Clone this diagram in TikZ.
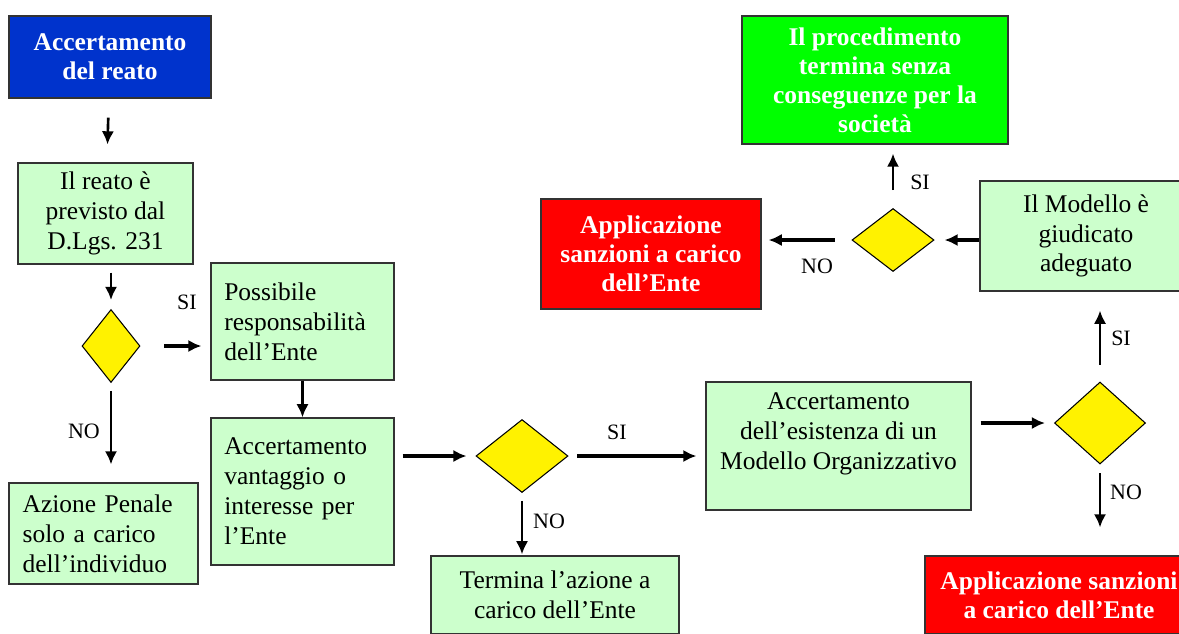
\documentclass[tikz,border=0pt]{standalone}
\usepackage{fontspec}
\setmainfont{Liberation Serif}
\usetikzlibrary{shapes.geometric,arrows.meta}

\definecolor{deepblue}{HTML}{0033CC}
\definecolor{palegreen}{HTML}{CCFFCC}
\definecolor{brightgreen}{HTML}{00FF00}

\tikzset{
  box/.style={draw=black!80, line width=0.7pt, fill=palegreen, align=center, inner sep=0pt,
    font=\fontsize{14.5}{17}\selectfont},
  lbox/.style={box, align=left},
  boldbox/.style={box, text=white, font=\fontsize{14.5}{16.5}\selectfont\bfseries},
  decision/.style={diamond, draw, fill=yellow, inner sep=0pt, line width=0.6pt},
  flow/.style={line width=2pt, -{Latex[length=7.5pt,width=7pt]}},
  lab/.style={font=\fontsize{12.5}{14}\selectfont}
}

\begin{document}
\begin{tikzpicture}[x=0.02cm, y=-0.02cm]
  \useasboundingbox (0,0) rectangle (1179,633);
  \clip (0,0) rectangle (1179,633);

  % left column
  \node[boldbox, fill=deepblue, minimum width=4.04cm, minimum height=1.64cm] (accert) at (110,57) {Accertamento\\del reato};
  \node[box, minimum width=3.5cm, minimum height=2.02cm] (previsto) at (105.5,213.5) {Il reato è\\previsto dal\\D.Lgs. 231};
  \node[decision, minimum width=1.16cm, minimum height=1.46cm] (d1) at (111,346) {};
  \node[lbox, text width=92pt, minimum width=3.78cm, minimum height=2.02cm] (azione) at (103.5,533.5) {Azione Penale\\solo a carico\\dell'individuo};

  % second column
  \node[lbox, text width=89pt, minimum width=3.66cm, minimum height=2.34cm] (possibile) at (302.5,321.5) {Possibile\\responsabilità\\dell'Ente};
  \node[lbox, text width=89pt, minimum width=3.66cm, minimum height=2.94cm] (vantaggio) at (302.5,491.5) {Accertamento\\vantaggio o\\interesse per\\l'Ente};

  % middle
  \node[decision, minimum width=1.84cm, minimum height=1.46cm] (d2) at (522,456) {};
  \node[box, minimum width=4.96cm, minimum height=1.56cm] (termina) at (555,595) {Termina l'azione a\\carico dell'Ente};
  \node[box, minimum width=5.3cm, minimum height=2.56cm] (esistenza) at (838.5,446) {Accertamento\\dell'esistenza di un\\Modello Organizzativo\\ \mbox{}};

  % right side
  \node[decision, minimum width=1.82cm, minimum height=1.64cm] (d3) at (1100,423) {};
  \node[boldbox, fill=red, minimum width=5.36cm, minimum height=1.56cm] (sanzbasso) at (1059,595) {Applicazione sanzioni\\a carico dell'Ente};
  \node[box, minimum width=4.24cm, minimum height=2.2cm] (adeguato) at (1086,236) {Il Modello è\\giudicato\\adeguato};
  \node[decision, minimum width=1.64cm, minimum height=1.26cm] (d4) at (893,240) {};
  \node[boldbox, fill=red, minimum width=4.4cm, minimum height=2.2cm] (sanzalto) at (651,254) {Applicazione\\sanzioni a carico\\dell'Ente};
  \node[boldbox, fill=brightgreen, minimum width=5.32cm, minimum height=2.56cm] (termsenza) at (875,80) {Il procedimento\\termina senza\\conseguenze per la\\società};

  % connectors
  \draw[flow, line width=1.5pt, shorten <=10.8pt, shorten >=10.2pt] (accert) -- (previsto);
  \draw[flow, line width=1.5pt, shorten <=4.5pt, shorten >=5.1pt] (previsto.south -| d1) -- (d1.north);
  \draw[flow, shorten <=13.6pt, shorten >=5.1pt] (d1.east) -- (d1.east -| possibile.west);
  \draw[flow, line width=1.5pt, shorten <=4.5pt, shorten >=10.2pt] (d1.south) -- (d1.south |- azione.north);
  \draw[flow] (possibile.south) -- (vantaggio.north);
  \draw[flow, shorten <=4.5pt, shorten >=5.1pt] (vantaggio.east |- d2) -- (d2.west);
  \draw[flow, shorten <=5.1pt, shorten >=5.1pt] (d2.east) -- (d2 -| esistenza.west);
  \draw[flow, line width=1.5pt, shorten <=4.5pt, shorten >=0.6pt] (d2.south) -- (d2.south |- termina.north);
  \draw[flow, shorten <=5.1pt, shorten >=5.1pt] (esistenza.east |- d3) -- (d3.west);
  \draw[flow, line width=1.5pt, shorten <=5.1pt, shorten >=15.9pt] (d3.south) -- (d3.south |- sanzbasso.north);
  \draw[flow, line width=1.5pt, shorten <=9.6pt, shorten >=10.8pt] (d3.north) -- (d3.north |- adeguato.south);
  \draw[flow, shorten >=5.7pt] (adeguato.west |- d4) -- (d4.east);
  \draw[flow, shorten <=9.6pt, shorten >=4pt] (d4.west) -- (d4.west -| sanzalto.east);
  \draw[flow, line width=1.5pt, shorten <=10.2pt, shorten >=5.1pt] (d4.north) -- (d4.north |- termsenza.south);

  % labels
  \node[lab] (si1) at (187,302) {SI};
  \node[lab] (no1) at (84,431) {NO};
  \node[lab] (si2) at (617,432) {SI};
  \node[lab] (no2) at (549,521) {NO};
  \node[lab] (no3) at (1126,492) {NO};
  \node[lab] (si3) at (1121,338) {SI};
  \node[lab] (no4) at (817,266) {NO};
  \node[lab] (si4) at (920,182) {SI};
\end{tikzpicture}
\end{document}
